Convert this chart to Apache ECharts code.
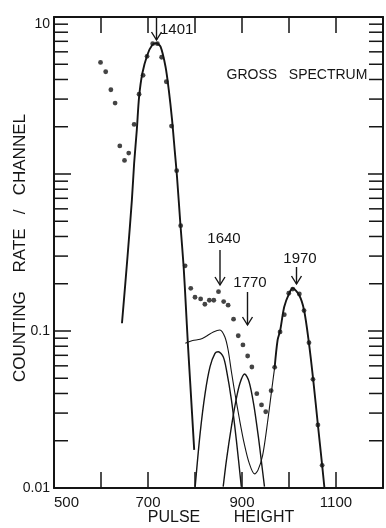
<!DOCTYPE html>
<html><head><meta charset="utf-8">
<script src="https://cdn.jsdelivr.net/npm/echarts@6/dist/echarts.min.js"></script>
<style>html,body{margin:0;padding:0;background:#fff}#c{width:386px;height:528px}</style>
</head><body><div id="c"></div>
<script>
// ---- tick labels ----
const xTickLabels = ['500', '700', '900', '1100'];
const yTickLabels = ['0.01', '0.1', '10'];
const minorTicks = [0.02,0.03,0.04,0.05,0.06,0.07,0.08,0.09,0.2,0.3,0.4,0.5,0.6,0.7,0.8,0.9,2,3,4,5,6,7,8,9];

// ---- measured points (gross spectrum) ----
const dotsX = [599,610,621,630,640,650,659,670.5,681,689.5,698,710,720,729,739,750,761,769.5,779,791,800,812,821,830.5,840,850,861,870.5,882,892,902,912,921,931.5,941.5,950.5,962,969.5,981,990,999.5,1008,1022,1032,1042.5,1051,1061.5,1070.5];
const dotsY = [5.14,4.48,3.44,2.83,1.51,1.22,1.36,2.07,3.22,4.25,5.62,6.76,6.76,5.54,3.87,2.02,1.05,0.469,0.26,0.187,0.164,0.160,0.148,0.157,0.157,0.178,0.154,0.146,0.119,0.0933,0.0815,0.0693,0.059,0.0399,0.0338,0.0306,0.0417,0.0587,0.0986,0.127,0.174,0.185,0.172,0.135,0.0842,0.0492,0.0252,0.01395];

// ---- fitted peak 1401 ----
const c1401X = [644.6,656.4,665.7,670.5,676.2,681.1,688,698.5,709,717.5,726.7,737.3,744.2,751.2,756.8,761.7,768.8,775.8,780.6,784.8,789.9,798.3];
const c1401Y = [0.112,0.297,0.682,1.17,1.91,3.11,4.38,5.73,6.63,6.80,6.47,4.82,3.43,2.21,1.42,0.961,0.485,0.257,0.143,0.0835,0.0464,0.0175];

// ---- fitted peak 1640 ----
const c1640X = [800.4,810.9,821.5,832,842.5,849.5,860,867,877.5,888,898.5];
const c1640Y = [0.0102,0.0223,0.0401,0.0593,0.0721,0.0738,0.0686,0.0564,0.0364,0.0202,0.0102];

// ---- fitted peak 1770 ----
const c1770X = [860,867,877.5,887.4,895.8,905.7,915,925,935,941,947.8];
const c1770Y = [0.0102,0.0151,0.0246,0.0364,0.0467,0.0532,0.0475,0.034,0.021,0.015,0.0102];

// ---- residual curve (thin) ----
const cRestX = [779.4,795,810.9,825,839,853,863.6,870.5,877.5,885,895,905,915,926.7,934,944,955,963,969.5];
const cRestY = [0.0835,0.087,0.0885,0.093,0.0986,0.1015,0.0916,0.0757,0.055,0.04,0.027,0.019,0.0145,0.0123,0.013,0.0162,0.0271,0.0417,0.0587];

// ---- fitted peak 1970 ----
const c1970X = [969.5,975.8,981,989.9,1000.4,1008,1021.5,1032,1042.5,1051.6,1061.5,1070.5,1075.4];
const c1970Y = [0.0587,0.0877,0.1,0.1428,0.1738,0.187,0.1695,0.136,0.0835,0.0487,0.0252,0.014,0.0100];

const ink = '#151515';
const font = 'Liberation Sans';
const pairs = (xs, ys) => xs.map((x, i) => [x, ys[i]]);
const line = (xs, ys, w) => ({type:'line', data:pairs(xs, ys), smooth:0.3, symbol:'none', silent:true,
  lineStyle:{color:ink, width:w}, z:3});

const axisLine = {show:true, lineStyle:{color:ink, width:2}};
const chart = echarts.init(document.getElementById('c'));
chart.setOption({
  animation:false,
  backgroundColor:'#fff',
  grid:{left:54, top:17, width:333, height:471},
  xAxis:[
    {type:'value', min:500, max:1200, interval:100, position:'bottom', axisLine,
     axisTick:{inside:true, length:16, lineStyle:{color:ink, width:1.5}},
     splitLine:{show:false},
     axisLabel:{color:ink, fontSize:15, fontFamily:font, margin:7, alignMinLabel:'left',
       formatter:v => xTickLabels.includes(String(v)) ? String(v) : ''}},
    {type:'value', min:500, max:1200, interval:100, position:'top', axisLine,
     axisTick:{inside:true, length:16, lineStyle:{color:ink, width:1.5}},
     splitLine:{show:false}, axisLabel:{show:false}}
  ],
  yAxis:[
    {type:'log', logBase:10, min:0.01, max:10, position:'left', axisLine,
     axisTick:{inside:true, length:17, lineStyle:{color:ink, width:1.5}},
     splitLine:{show:false},
     axisLabel:{color:ink, fontSize:14, fontFamily:font, margin:4, verticalAlignMaxLabel:'top',
       formatter:v => { const f = yTickLabels.find(t => Math.abs(Math.log10(+t) - Math.log10(v)) < 1e-6); return f || ''; }}},
    {type:'log', logBase:10, min:0.01, max:10, position:'right', axisLine,
     axisTick:{inside:true, length:15, lineStyle:{color:ink, width:1.5}},
     splitLine:{show:false}, axisLabel:{show:false}}
  ],
  series:[
    {type:'custom', coordinateSystem:'cartesian2d', silent:true, clip:false,
     data:minorTicks.map(v => [500, v]),
     renderItem:(params, api) => {
       const y = api.coord([500, api.value(1)])[1];
       const cs = params.coordSys;
       return {type:'group', children:[
         {type:'line', shape:{x1:cs.x, y1:y, x2:cs.x + 14, y2:y}, style:{stroke:ink, lineWidth:1.5}},
         {type:'line', shape:{x1:cs.x + cs.width, y1:y, x2:cs.x + cs.width - 14, y2:y}, style:{stroke:ink, lineWidth:1.5}}
       ]};
     }},
    line(c1401X, c1401Y, 1.9),
    line(c1640X, c1640Y, 1.4),
    line(c1770X, c1770Y, 1.4),
    line(cRestX, cRestY, 1.1),
    line(c1970X, c1970Y, 1.9),
    {type:'scatter', data:pairs(dotsX, dotsY), symbolSize:4.8, itemStyle:{color:ink}, silent:true, z:5}
  ],
  graphic:[]
});

// ---- annotations ----
function arrow(x, y1, y2) {
  return [
    {type:'line', shape:{x1:x, y1:y1, x2:x, y2:y2}, style:{stroke:ink, lineWidth:1.4}},
    {type:'polyline', shape:{points:[[x - 5, y2 - 8], [x, y2], [x + 5, y2 - 8]]}, style:{stroke:ink, lineWidth:1.4, fill:null}}
  ];
}
function txt(s, x, y, size, align) {
  return {type:'text', x:x, y:y, style:{text:s, fill:ink, font:size + 'px "' + font + '"', textAlign:align || 'center', textVerticalAlign:'middle'}};
}
const g = [];
g.push(...arrow(156.5, 18, 40), txt('1401', 160, 30, 15, 'left'));
g.push(txt('GROSS   SPECTRUM', 297, 75, 14));
g.push(txt('1640', 224, 239, 15), ...arrow(220, 250, 285));
g.push(txt('1770', 250, 283, 15), ...arrow(247.5, 292, 325));
g.push(txt('1970', 300, 259, 15), ...arrow(296.5, 267, 284));
g.push(txt('PULSE', 174, 518, 16), txt('HEIGHT', 264, 518, 16));
g.push({type:'text', x:20, y:248, rotation:Math.PI/2,
  style:{text:'COUNTING    RATE   /   CHANNEL', fill:ink, font:'17px "' + font + '"', textAlign:'center', textVerticalAlign:'middle'}});
chart.setOption({graphic:g.map(e => Object.assign({silent:true, z:10}, e))});
</script></body></html>
